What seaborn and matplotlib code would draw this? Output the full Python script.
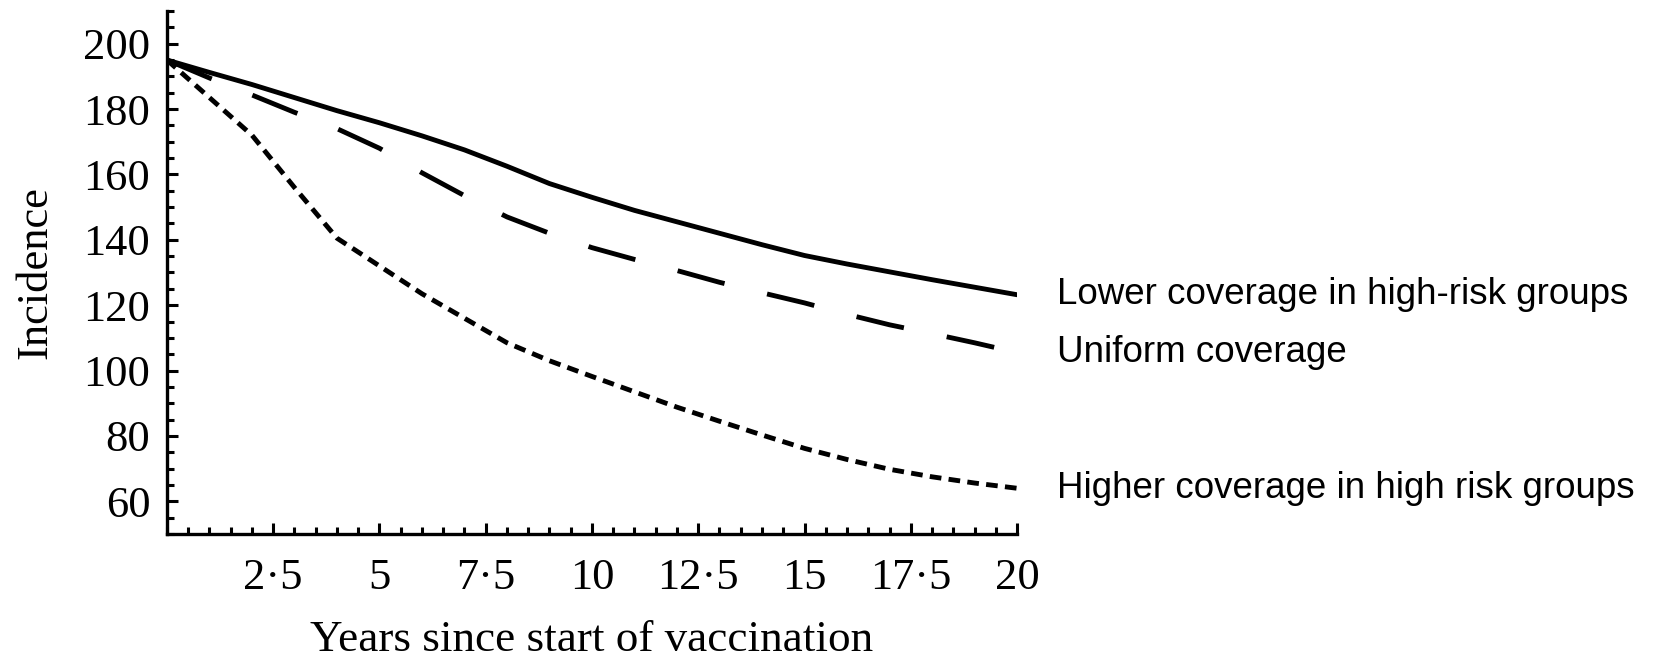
import numpy as np
import pandas as pd
import matplotlib
matplotlib.use("Agg")
import matplotlib.pyplot as plt
from matplotlib.ticker import MultipleLocator, FixedLocator
import seaborn as sns

years = list(range(0, 21))
lower_coverage = [195, 191.2, 187.5, 183.5, 179.5, 175.8, 171.8, 167.5, 162.5, 157.2,
                  153, 149, 145.5, 142, 138.5, 135.2, 132.6, 130.2, 127.8, 125.5, 123.2]
uniform_coverage = [195, 189.5, 184.3, 179, 174, 168, 160.5, 153.5, 147, 142,
                    137.6, 134, 130.6, 127, 123.8, 120.7, 117.2, 114, 111.3, 108.5, 105.5]
higher_coverage = [195, 183.5, 172, 156, 140.5, 132, 123.5, 116, 108.5, 103,
                   98.2, 93.5, 88.8, 84.5, 80.3, 76.2, 72.8, 69.8, 67.5, 65.6, 64]

series_names = ["Lower coverage in high-risk groups",
                "Uniform coverage",
                "Higher coverage in high risk groups"]
x_tick_values = [2.5, 5, 7.5, 10, 12.5, 15, 17.5, 20]
x_tick_labels = ["2·5", "5", "7·5", "10", "12·5", "15", "17·5", "20"]
y_tick_values = [60, 80, 100, 120, 140, 160, 180, 200]

df = pd.DataFrame({
    "year": years * 3,
    "incidence": lower_coverage + uniform_coverage + higher_coverage,
    "series": [series_names[0]] * 21 + [series_names[1]] * 21 + [series_names[2]] * 21,
})

sns.set_style("white")
plt.rcParams["font.family"] = ["Liberation Serif", "DejaVu Serif"]
plt.rcParams["text.color"] = "black"
plt.rcParams["axes.labelcolor"] = "black"

fig = plt.figure(figsize=(16.58, 6.61), dpi=100)
ax = fig.add_axes([0.1007, 0.1921, 0.5127, 0.7913])

dashes = {series_names[0]: "", series_names[1]: (10, 9), series_names[2]: (2.4, 1.5)}
sns.lineplot(data=df, x="year", y="incidence", style="series", dashes=dashes,
             color="black", linewidth=3.5, legend=False, ax=ax, estimator=None)

ax.set_xlim(0, 20)
ax.set_ylim(50, 210)
ax.xaxis.set_major_locator(FixedLocator(x_tick_values))
ax.set_xticklabels(x_tick_labels)
ax.xaxis.set_minor_locator(MultipleLocator(0.5))
ax.yaxis.set_major_locator(FixedLocator(y_tick_values))
ax.yaxis.set_minor_locator(MultipleLocator(5))

for s in ["top", "right"]:
    ax.spines[s].set_visible(False)
for s in ["left", "bottom"]:
    ax.spines[s].set_linewidth(2.4)
    ax.spines[s].set_color("black")

ax.tick_params(axis="both", which="both", bottom=True, left=True, top=False, right=False)
ax.tick_params(axis="both", which="major", direction="in", length=8, width=2.2,
               labelsize=32, color="black", labelcolor="black")
ax.tick_params(axis="both", which="minor", direction="in", length=5, width=2.2, color="black")
ax.tick_params(axis="y", which="major", pad=12)
ax.tick_params(axis="x", which="major", pad=17)

ax.set_xlabel("Years since start of vaccination", fontsize=32.5, labelpad=16)
ax.set_ylabel("Incidence", fontsize=32, labelpad=20)

ends = [lower_coverage[-1], uniform_coverage[-1], higher_coverage[-1]]
for name, yv in zip(series_names, ends):
    ax.text(20.94, yv, name, fontsize=26.5, va="center", ha="left",
            family=["Liberation Sans", "DejaVu Sans"], clip_on=False)

fig.savefig("out.png", dpi=100)
